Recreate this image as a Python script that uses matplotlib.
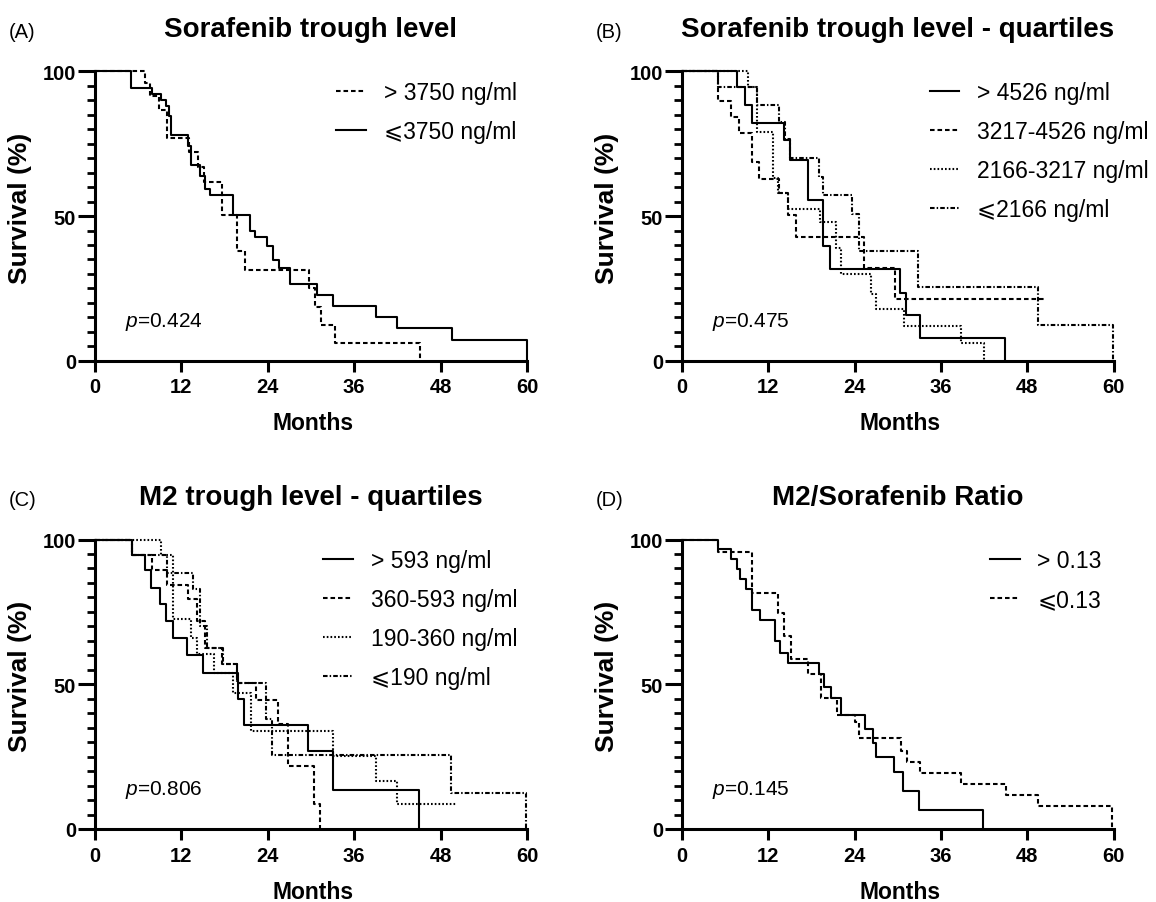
import matplotlib
matplotlib.use('Agg')
import matplotlib.pyplot as plt
from matplotlib.ticker import MultipleLocator

plt.rcParams['font.family'] = ['Liberation Sans', 'DejaVu Sans']
plt.rcParams['mathtext.fontset'] = 'custom'
plt.rcParams['mathtext.it'] = 'Liberation Sans:italic'
plt.rcParams['mathtext.rm'] = 'Liberation Sans'

# panel A - sorafenib trough level
a_hi_t = [0, 7.0, 7.6, 8.9, 10.0, 13.1, 14.3, 15.1, 17.7, 19.7, 20.9, 29.7, 30.6, 31.4, 33.3, 45.2]
a_hi_s = [100, 95.9, 91.6, 86.6, 77.0, 72.0, 66.8, 61.6, 50.3, 37.9, 31.5, 25.0, 18.7, 12.3, 6.1, 0]
a_lo_t = [0, 5.0, 7.9, 9.1, 9.9, 10.3, 10.6, 12.9, 13.4, 14.6, 15.3, 16.0, 19.1, 21.5, 22.2, 23.9,
          24.7, 25.5, 27.1, 30.8, 33.0, 39.0, 41.9, 49.6, 60.0]
a_lo_s = [100, 94.1, 92.2, 90.0, 88.0, 84.7, 78.1, 74.1, 67.6, 63.9, 59.3, 57.3, 50.3, 44.9, 42.6, 39.7,
          34.9, 31.9, 26.7, 22.7, 19.0, 15.0, 11.2, 7.3, 0]

# panel B - sorafenib quartiles
b1_t = [0, 7.7, 8.8, 9.7, 14.2, 15.0, 17.5, 19.6, 20.6, 30.3, 31.2, 33.1, 44.9]
b1_s = [100, 94.5, 88.3, 82.1, 76.3, 69.5, 55.5, 39.6, 31.7, 23.5, 15.9, 7.8, 0]
b2_t = [0, 5.0, 6.9, 7.9, 9.8, 10.7, 13.5, 14.7, 15.9, 25.3, 29.6, 50.3]
b2_s = [100, 89.9, 84.2, 78.8, 68.6, 62.9, 57.8, 50.4, 42.8, 31.9, 21.4, 21.4]
b3_t = [0, 9.2, 10.4, 12.7, 13.4, 14.8, 19.2, 21.4, 22.1, 26.3, 27.0, 30.9, 38.8, 42.0]
b3_s = [100, 94.5, 79.0, 63.0, 58.0, 52.4, 47.8, 39.0, 30.0, 23.0, 18.0, 11.9, 6.1, 0]
b4_t = [0, 5.0, 10.4, 13.5, 14.3, 15.1, 19.0, 19.6, 23.7, 24.6, 32.8, 49.5, 59.9]
b4_s = [100, 94.5, 88.5, 82.4, 76.6, 70.0, 63.4, 57.3, 50.7, 38.0, 25.4, 12.4, 0]

# panel C - M2 quartiles
c1_t = [0, 5.1, 6.9, 7.8, 9.0, 9.9, 10.8, 12.8, 15.0, 19.8, 20.7, 29.6, 33.1, 45.0]
c1_s = [100, 94.6, 89.5, 83.3, 77.7, 71.8, 66.0, 60.2, 54.0, 44.8, 35.9, 27.0, 13.6, 0]
c2_t = [0, 5.1, 7.9, 10.0, 12.9, 14.1, 15.3, 17.7, 19.7, 22.3, 25.4, 26.8, 30.4, 31.3]
c2_s = [100, 94.6, 89.5, 84.2, 79.3, 72.0, 62.6, 56.9, 50.6, 44.6, 36.2, 21.8, 8.6, 0]
c3_t = [0, 9.2, 10.8, 13.4, 14.2, 16.5, 19.2, 21.7, 33.0, 39.0, 42.0, 50.2]
c3_s = [100, 94.6, 72.4, 66.0, 60.3, 54.0, 47.0, 33.7, 25.3, 16.7, 8.6, 8.6]
c4_t = [0, 5.1, 10.0, 13.6, 14.6, 15.5, 17.8, 19.7, 23.8, 24.6, 49.5, 59.9]
c4_s = [100, 94.6, 88.5, 82.8, 70.0, 62.6, 56.9, 50.6, 37.9, 25.4, 12.6, 0]

# panel D - M2/sorafenib ratio
d1_t = [0, 5.1, 6.9, 7.7, 8.1, 8.9, 9.8, 10.9, 12.9, 13.6, 14.8, 19.0, 19.7, 20.7, 22.1, 25.4,
        26.5, 27.0, 29.5, 30.7, 32.9, 41.9]
d1_s = [100, 96.6, 93.1, 89.7, 86.4, 82.8, 75.6, 72.1, 64.9, 60.9, 57.5, 53.4, 48.9, 45.4, 39.3, 34.7,
        29.7, 24.7, 19.8, 13.2, 6.6, 0]
d2_t = [0, 5.1, 9.8, 13.4, 14.2, 15.2, 17.5, 19.3, 21.5, 24.0, 24.6, 30.5, 31.3, 33.1, 38.8, 45.0, 49.5, 59.8]
d2_s = [100, 95.7, 81.6, 74.7, 66.7, 58.6, 53.7, 45.4, 39.3, 36.8, 31.3, 27.0, 23.2, 19.5, 15.5, 11.7, 7.8, 0]

x_ticks = [0, 12, 24, 36, 48, 60]
y_ticks = [0, 50, 100]

SOLID = '-'
DASH = (0, (2.2, 1.4))
DOT = (0, (0.8, 1.0))
DASHDOT = (0, (2.2, 1.0, 0.7, 1.0))

fig = plt.figure(figsize=(11.56, 9.03), dpi=100)
W, H = 1156, 903


def make_ax(x0, ytop):
    ax = fig.add_axes([x0 / W, 1 - (ytop + 289.5) / H, 432 / W, 289.5 / H])
    return ax


def style(ax, letter, title, pval, leg_x):
    ax.set_xlim(0, 60)
    ax.set_ylim(0, 100)
    ax.set_xticks(x_ticks)
    ax.set_yticks(y_ticks)
    ax.yaxis.set_minor_locator(MultipleLocator(5))
    for s in ['top', 'right']:
        ax.spines[s].set_visible(False)
    for s in ['left', 'bottom']:
        ax.spines[s].set_linewidth(2.2)
    ax.tick_params(axis='x', which='major', length=8, width=2.2, pad=4, labelsize=14.5)
    ax.tick_params(axis='y', which='major', length=12, width=2.2, pad=1.5, labelsize=14.5)
    ax.tick_params(axis='y', which='minor', length=6, width=2.0)
    for lab in ax.get_xticklabels() + ax.get_yticklabels():
        lab.set_fontweight('bold')
    ax.set_xlabel('Months', fontsize=16.5, fontweight='bold')
    ax.xaxis.set_label_coords(0.505, -0.175)
    ax.set_ylabel('Survival (%)', fontsize=19, fontweight='bold')
    ax.yaxis.set_label_coords(-0.146, 0.53)
    ax.text(0.5, 1.122, title, transform=ax.transAxes, ha='center', va='baseline',
            fontsize=20, fontweight='bold')
    ax.text(-0.199, 1.118, letter, transform=ax.transAxes, ha='left', va='baseline', fontsize=14.5)
    ax.text(4.2, 12.1, r'$\mathit{p}$=' + pval, ha='left', va='baseline', fontsize=15)
    ax.legend(loc='upper left', bbox_to_anchor=(leg_x, 0.968), frameon=False, fontsize=16.5,
              handlelength=1.3, handletextpad=0.78, labelspacing=0.7,
              borderpad=0, borderaxespad=0)


def km(ax, t, s, ls, label, lw=1.5):
    ax.step(t, s, where='post', color='black', linestyle=ls, linewidth=lw, label=label, clip_on=False)


axA = make_ax(95, 72.3)
km(axA, a_hi_t, a_hi_s, DASH, '> 3750 ng/ml')
km(axA, a_lo_t, a_lo_s, SOLID, '⩽3750 ng/ml')
style(axA, '(A)', 'Sorafenib trough level', '0.424', 0.559)

axB = make_ax(681.7, 72.3)
km(axB, b1_t, b1_s, SOLID, '> 4526 ng/ml')
km(axB, b2_t, b2_s, DASH, '3217-4526 ng/ml')
km(axB, b3_t, b3_s, DOT, '2166-3217 ng/ml')
km(axB, b4_t, b4_s, DASHDOT, '⩽2166 ng/ml')
style(axB, '(B)', 'Sorafenib trough level - quartiles', '0.475', 0.574)

axC = make_ax(95, 540.5)
km(axC, c1_t, c1_s, SOLID, '> 593 ng/ml')
km(axC, c2_t, c2_s, DASH, '360-593 ng/ml')
km(axC, c3_t, c3_s, DOT, '190-360 ng/ml')
km(axC, c4_t, c4_s, DASHDOT, '⩽190 ng/ml')
style(axC, '(C)', 'M2 trough level - quartiles', '0.806', 0.528)

axD = make_ax(681.7, 540.5)
km(axD, d1_t, d1_s, SOLID, '> 0.13')
km(axD, d2_t, d2_s, DASH, '⩽0.13')
style(axD, '(D)', 'M2/Sorafenib Ratio', '0.145', 0.713)

fig.savefig('out.png', dpi=100)
